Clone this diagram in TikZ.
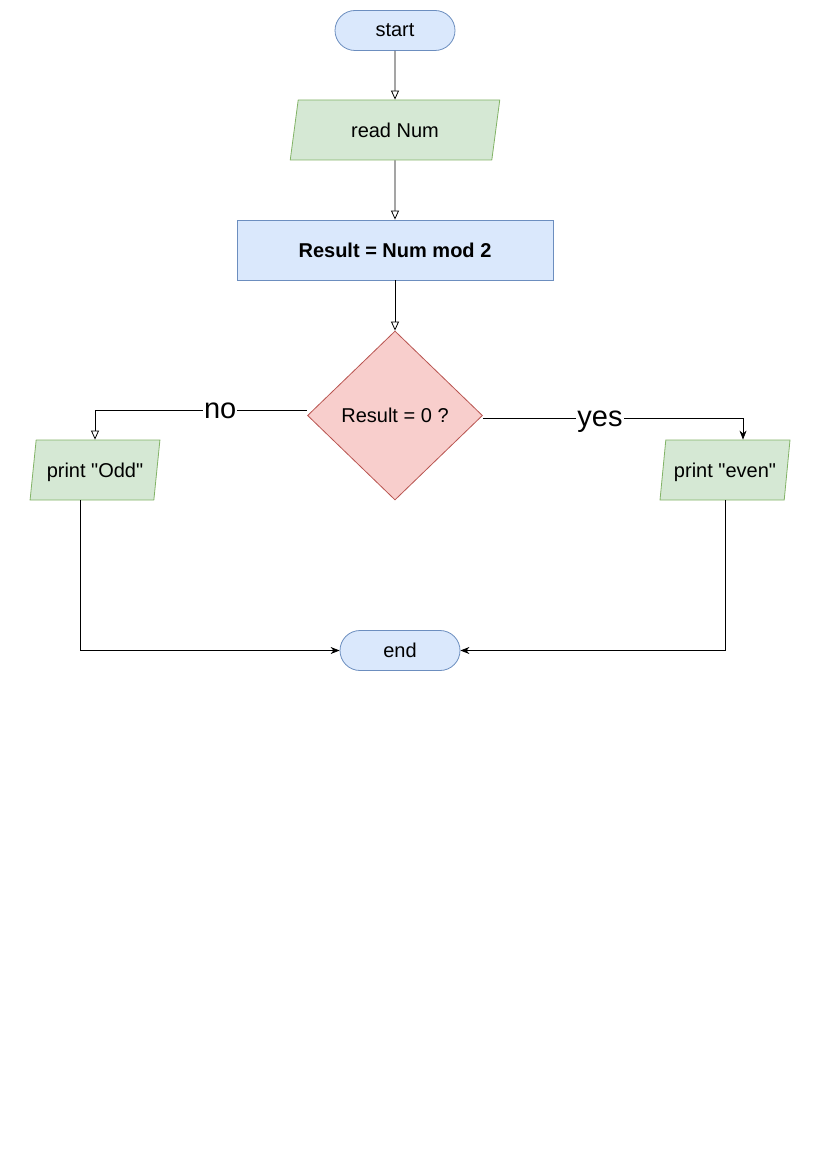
\documentclass[tikz,border=0pt]{standalone}
\usepackage{fontspec}
\setmainfont{Liberation Sans}
\usetikzlibrary{shapes.geometric,shapes.misc,arrows.meta}
\definecolor{bluefill}{HTML}{DAE8FC}
\definecolor{bluedraw}{HTML}{6C8EBF}
\definecolor{greenfill}{HTML}{D5E8D4}
\definecolor{greendraw}{HTML}{82B366}
\definecolor{redfill}{HTML}{F8CECC}
\definecolor{reddraw}{HTML}{B85450}
\tikzset{
  base/.style={font=\fontsize{20}{24}\selectfont, inner sep=0pt, line width=0.8pt, text depth=0pt},
  term/.style={base, rounded rectangle, fill=bluefill, draw=bluedraw, minimum width=120pt, minimum height=40pt},
  proc/.style={base, rectangle, fill=bluefill, draw=bluedraw, minimum width=316pt, minimum height=60pt},
  io/.style={base, trapezium, trapezium stretches=true, trapezium left angle=#1, trapezium right angle=180-#1,
     fill=greenfill, draw=greendraw, minimum height=60pt},
  dec/.style={base, diamond, fill=redfill, draw=reddraw, minimum width=175pt, minimum height=169pt},
  flow/.style={line width=0.8pt, draw=black},
  openarrow/.style={-{Triangle[open,length=9pt,width=8pt]}},
  fillarrow/.style={-{Stealth[length=9pt,width=7pt]}},
  lbl/.style={font=\fontsize{29}{32}\selectfont, fill=white, inner sep=1pt, text depth=0pt}
}
\begin{document}
\begin{tikzpicture}[x=1pt,y=-1pt]
\useasboundingbox (0,0) rectangle (827,1169);
\node[term] (start) at (395,30.5) {start};
\node[io=76, minimum width=210pt] (read) at (395,130) {read Num};
\node[proc] (calc) at (395,250) {\bfseries Result = Num mod 2};
\node[dec] (dec) at (395,415.5) {Result = 0 ?};
\node[io=71, minimum width=130pt] (odd) at (95,470) {print \textquotedbl Odd\textquotedbl};
\node[io=71, minimum width=130pt] (even) at (725,470) {print \textquotedbl even\textquotedbl};
\node[term] (end) at (400,650.5) {end};

\draw[flow,openarrow] (start) -- (read);
\draw[flow,openarrow] (read) -- (calc);
\draw[flow,openarrow] (calc) -- (dec);
\draw[flow,openarrow] ([yshift=5pt]dec.west) -| (odd.north) node[lbl,pos=0.205] {no};
\draw[flow,fillarrow] ([yshift=-3pt]dec.east) -| ([xshift=18pt]even.north) node[lbl,pos=0.225] {yes};
\draw[flow,fillarrow] ([xshift=-15pt]odd.south) |- (end.west);
\draw[flow,fillarrow] (even.south) |- (end.east);
\end{tikzpicture}
\end{document}
